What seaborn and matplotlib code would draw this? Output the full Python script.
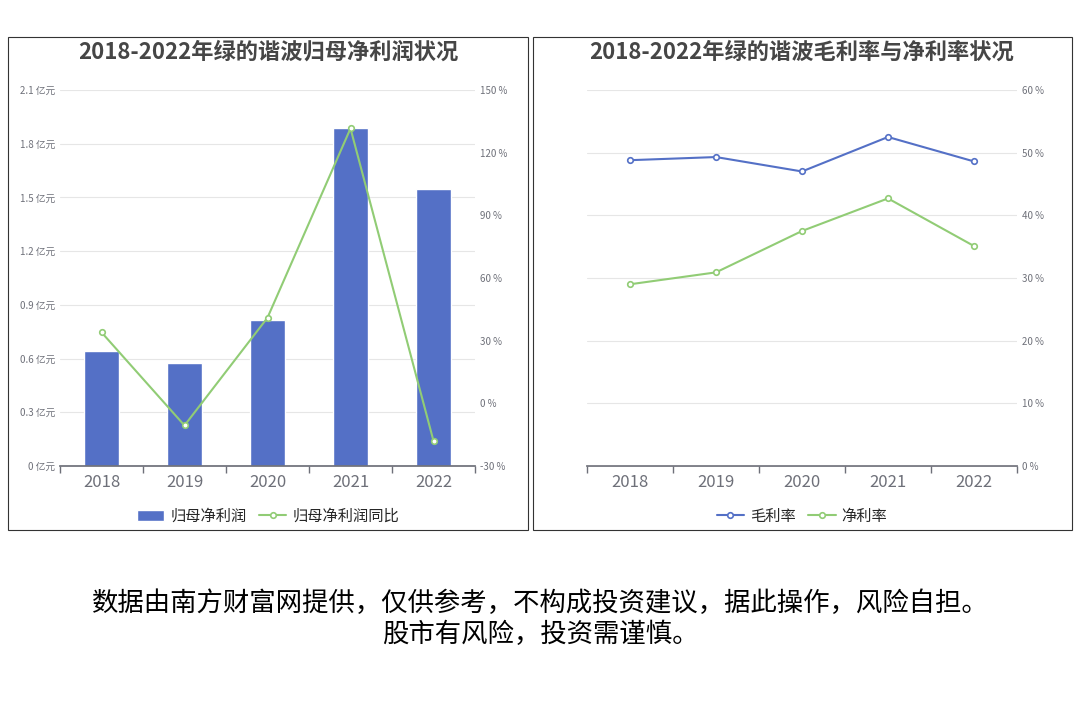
import numpy as np
import pandas as pd
import matplotlib
matplotlib.use('Agg')
import matplotlib.pyplot as plt
import seaborn as sns
from matplotlib.patches import Rectangle

years = ['2018', '2019', '2020', '2021', '2022']
profit = [0.642, 0.575, 0.815, 1.888, 1.547]          # 亿元
profit_yoy = [34.0, -10.6, 41.0, 131.6, -18.0]        # %
gross_margin = [48.8, 49.3, 47.0, 52.5, 48.6]         # %
net_margin = [29.0, 30.9, 37.5, 42.7, 35.1]           # %

sns.set_theme(style='white')
plt.rcParams['font.family'] = ['Noto Sans CJK SC', 'DejaVu Sans']

BLUE = '#5470c6'
GREEN = '#91cc75'
GRAY = '#6e7079'

fig = plt.figure(figsize=(10.8, 7.2), dpi=100)
W, H = 1080, 720

def box(x0, y0, x1, y1):
    fig.patches.append(Rectangle((x0 / W, 1 - y1 / H), (x1 - x0) / W, (y1 - y0) / H,
                                 transform=fig.transFigure, fill=False, ec='#333333', lw=0.8))

def axpos(x0, y0, x1, y1):
    return [x0 / W, 1 - y1 / H, (x1 - x0) / W, (y1 - y0) / H]

def style(ax, ticks, fmt):
    ax.set_ylim(ticks[0], ticks[-1])
    ax.set_yticks(ticks)
    ax.set_yticklabels([fmt(t) for t in ticks], fontsize=7, color=GRAY)
    ax.tick_params(axis='y', length=0)
    for s in ax.spines.values():
        s.set_visible(False)

def xaxis(ax):
    ax.set_xlim(-0.5, 4.5)
    ax.set_xticks(range(5))
    ax.set_xticklabels(years, fontsize=12, color=GRAY)
    ax.set_xticks(np.arange(-0.5, 5, 1), minor=True)
    ax.tick_params(axis='x', which='major', length=0, pad=6)
    ax.tick_params(axis='x', which='minor', length=5, color=GRAY, bottom=True)
    ax.spines['bottom'].set_visible(True)
    ax.spines['bottom'].set_color(GRAY)
    ax.set_xlabel('')

box(8, 37, 528, 530)
box(533, 37, 1072, 530)

# left chart
ax = fig.add_axes(axpos(60, 90, 475, 466))
df = pd.DataFrame({'year': years, 'profit': profit})
sns.barplot(data=df, x='year', y='profit', color=BLUE, saturation=1, width=0.42, ax=ax, label='归母净利润')
if ax.get_legend() is not None:
    ax.get_legend().remove()
style(ax, np.linspace(0, 2.1, 8), lambda t: f'{t:.1f} 亿元'.replace('0.0 ', '0 '))
ax.set_ylabel('')
ax.yaxis.grid(True, color='#e6e6e6', lw=0.8)
ax.set_axisbelow(True)
xaxis(ax)
ax2 = ax.twinx()
sns.lineplot(x=np.arange(5), y=profit_yoy, color=GREEN, lw=1.5, marker='o', ms=4,
             mfc='white', mec=GREEN, mew=1.2, ax=ax2, label='归母净利润同比')
style(ax2, np.arange(-30, 151, 30), lambda t: f'{t:.0f} %')
ax2.set_xlim(-0.5, 4.5)
ax2.get_legend().remove()
h1, l1 = ax.get_legend_handles_labels()
h2, l2 = ax2.get_legend_handles_labels()
fig.legend(h1 + h2, l1 + l2, loc='center', bbox_to_anchor=(268 / W, 1 - 516 / H), ncol=2,
           frameon=False, fontsize=11, handlelength=1.8, columnspacing=0.8, handletextpad=0.4)
fig.text(268 / W, 1 - 52 / H, '2018-2022年绿的谐波归母净利润状况', ha='center', va='center',
         fontsize=16, fontweight='bold', color='#464646')

# right chart
bx = fig.add_axes(axpos(587, 90, 1017, 466))
bx2 = bx.twinx()
bx.set_yticks([])
for s in bx.spines.values():
    s.set_visible(False)
xaxis(bx)
style(bx2, np.arange(0, 61, 10), lambda t: f'{t:.0f} %')
bx2.yaxis.grid(True, color='#e6e6e6', lw=0.8)
sns.lineplot(x=np.arange(5), y=gross_margin, color=BLUE, lw=1.5, marker='o', ms=4,
             mfc='white', mec=BLUE, mew=1.2, ax=bx2, label='毛利率')
sns.lineplot(x=np.arange(5), y=net_margin, color=GREEN, lw=1.5, marker='o', ms=4,
             mfc='white', mec=GREEN, mew=1.2, ax=bx2, label='净利率')
bx2.set_xlim(-0.5, 4.5)
h, l = bx2.get_legend_handles_labels()
bx2.get_legend().remove()
fig.legend(h, l, loc='center', bbox_to_anchor=(802 / W, 1 - 516 / H), ncol=2,
           frameon=False, fontsize=11, handlelength=1.8, columnspacing=0.8, handletextpad=0.4)
fig.text(802 / W, 1 - 52 / H, '2018-2022年绿的谐波毛利率与净利率状况', ha='center', va='center',
         fontsize=16, fontweight='bold', color='#464646')

fig.text(0.5, 1 - 603 / H, '数据由南方财富网提供，仅供参考，不构成投资建议，据此操作，风险自担。',
         ha='center', va='center', fontsize=19, color='black')
fig.text(0.5, 1 - 634 / H, '股市有风险，投资需谨慎。', ha='center', va='center', fontsize=19, color='black')

fig.savefig('out.png', dpi=100)
